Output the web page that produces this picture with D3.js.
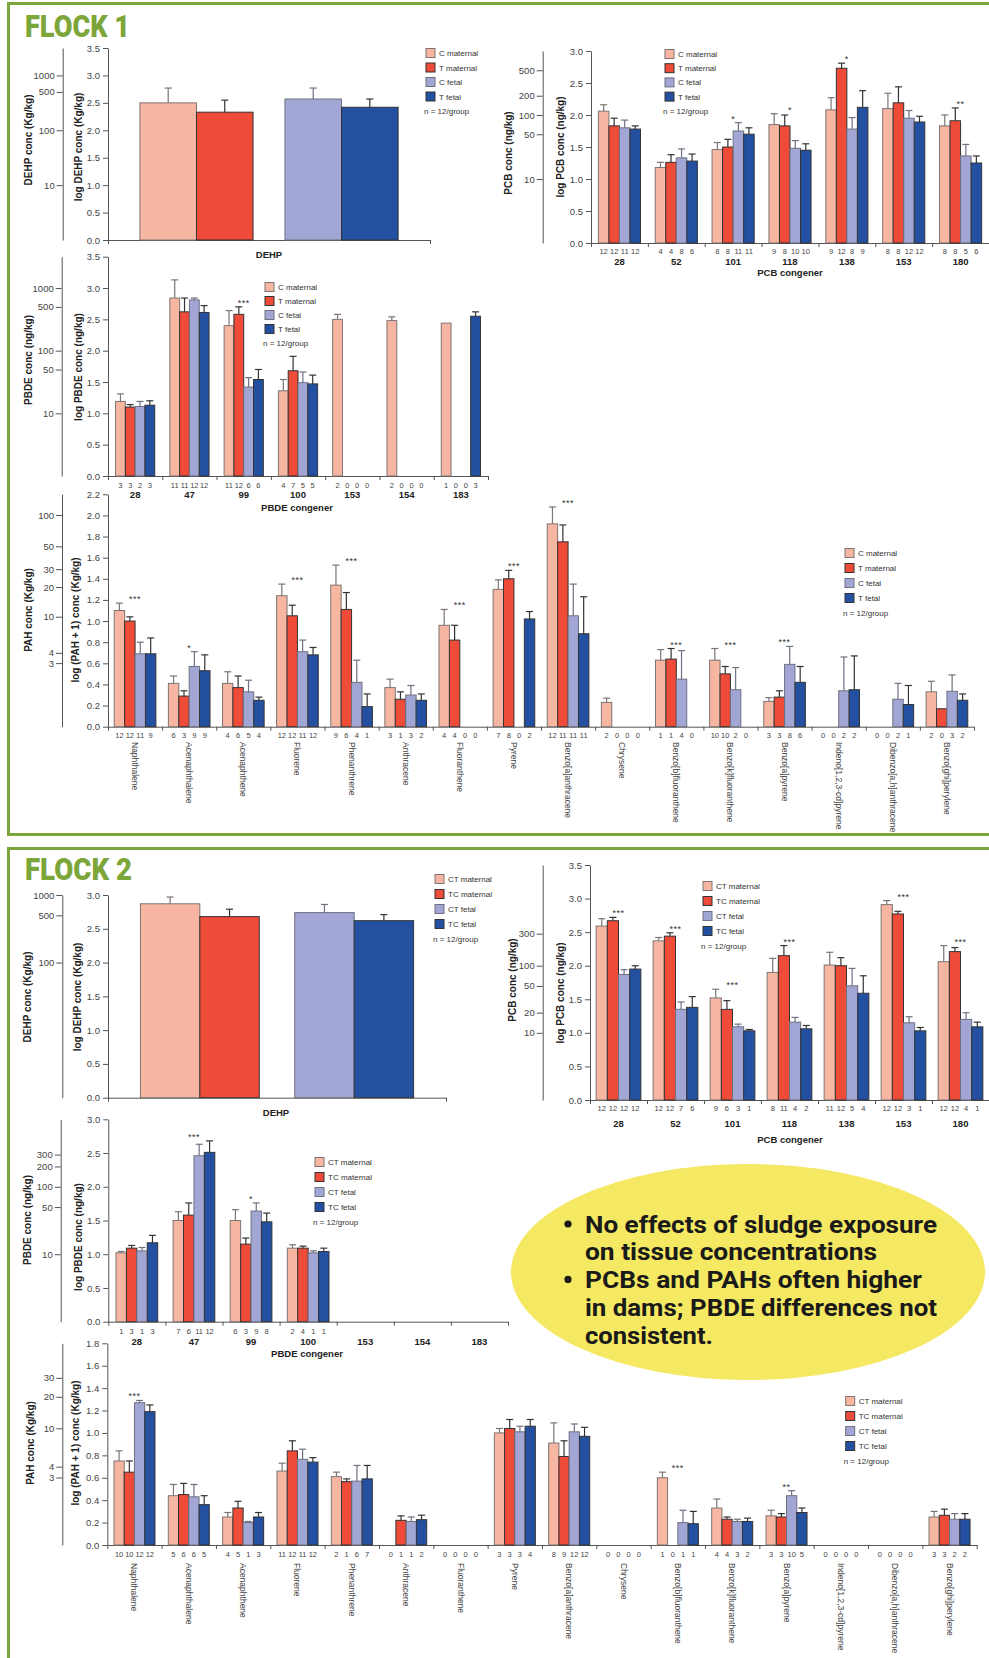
<!DOCTYPE html>
<html>
<head>
<meta charset="utf-8">
<script src="https://cdn.jsdelivr.net/npm/d3@7"></script>
<style>
  body { margin: 0; background: #fff; }
  svg { display: block; }
  text { font-family: "Liberation Sans", Arial, sans-serif; }
</style>
</head>
<body>
<script>
// ---------- data ----------
var seriesF1 = ["C maternal", "T maternal", "C fetal", "T fetal"];
var seriesF2 = ["CT maternal", "TC maternal", "CT fetal", "TC fetal"];

var pcbGroups = ["28", "52", "101", "118", "138", "153", "180"];
var pbdeGroups = ["28", "47", "99", "100", "153", "154", "183"];
var pahGroups = ["Naphthalene", "Acenaphthalene", "Acenaphthene", "Fluorene", "Phenanthrene",
  "Anthracene", "Fluoranthene", "Pyrene", "Benzo[a]anthracene", "Chrysene",
  "Benzo[b]fluoranthene", "Benzo[k]fluoranthene", "Benzo[a]pyrene",
  "Indeno[1,2,3-cd]pyrene", "Dibenzo[a,h]anthracene", "Benzo[ghi]perylene"];

// secondary (untransformed) tick labels
var f1DehpSec = [10, 100, 500, 1000];
var f1PcbSec = [10, 50, 100, 200, 500];
var f1PbdeSec = [10, 50, 100, 500, 1000];
var f1PahSec = [3, 4, 10, 20, 30, 50, 100];
var f2DehpSec = [100, 500, 1000];
var f2PcbSec = [10, 20, 50, 100, 300];
var f2PbdeSec = [10, 50, 100, 200, 300];
var f2PahSec = [3, 4, 10, 20, 30];

// FLOCK 1 — DEHP (log conc), order: C mat, T mat, C fet, T fet
var f1DehpMean = [2.50, 2.33, 2.57, 2.42];
var f1DehpErr = [0.27, 0.22, 0.20, 0.15];

// FLOCK 1 — PCB
var f1PcbMean = [
  [2.06, 1.18, 1.46, 1.85, 2.08, 2.10, 1.83],
  [1.83, 1.26, 1.50, 1.83, 2.73, 2.19, 1.91],
  [1.80, 1.33, 1.75, 1.48, 1.78, 1.95, 1.36],
  [1.78, 1.28, 1.70, 1.45, 2.12, 1.89, 1.25]
];
var f1PcbErr = [
  [0.10, 0.08, 0.11, 0.17, 0.19, 0.24, 0.17],
  [0.12, 0.12, 0.12, 0.17, 0.08, 0.25, 0.20],
  [0.12, 0.14, 0.13, 0.12, 0.18, 0.12, 0.18],
  [0.05, 0.11, 0.10, 0.10, 0.26, 0.09, 0.11]
];
var f1PcbN = [[12, 12, 11, 12], [4, 4, 8, 6], [8, 8, 11, 11], [9, 8, 10, 10], [9, 12, 8, 9], [8, 8, 12, 12], [8, 8, 5, 6]];
var f1PcbStars = ["", "", "*", "*", "*", "", "**"];

// FLOCK 1 — PBDE
var f1PbdeMean = [
  [1.19, 2.84, 2.40, 1.36, 2.50, 2.48, 2.44],
  [1.10, 2.62, 2.58, 1.68, null, null, null],
  [1.11, 2.81, 1.42, 1.49, null, null, null],
  [1.13, 2.61, 1.54, 1.47, null, null, 2.55]
];
var f1PbdeErr = [
  [0.12, 0.29, 0.24, 0.18, 0.08, 0.06, 0],
  [0.04, 0.22, 0.12, 0.23, null, null, null],
  [0.08, 0.03, 0.15, 0.17, null, null, null],
  [0.07, 0.11, 0.16, 0.14, null, null, 0.07]
];
var f1PbdeN = [[3, 3, 2, 3], [11, 11, 12, 12], [11, 12, 6, 6], [4, 7, 5, 5], [2, 0, 0, 0], [2, 0, 0, 0], [1, 0, 0, 3]];
var f1PbdeStars = ["", "", "***", "", "", "", ""];

// FLOCK 1 — PAH (log(PAH + 1))
var f1PahMean = [
  [1.10, 0.41, 0.41, 1.24, 1.34, 0.37, 0.96, 1.30, 1.92, 0.23, 0.63, 0.63, 0.24, null, null, 0.33],
  [1.00, 0.29, 0.37, 1.05, 1.11, 0.26, 0.82, 1.40, 1.75, null, 0.64, 0.50, 0.28, null, null, 0.17],
  [0.69, 0.57, 0.33, 0.71, 0.42, 0.30, null, null, 1.05, null, 0.45, 0.35, 0.59, 0.34, 0.26, 0.335],
  [0.69, 0.53, 0.25, 0.68, 0.19, 0.25, null, 1.02, 0.88, null, null, null, 0.42, 0.35, 0.21, 0.25]
];
var f1PahErr = [
  [0.07, 0.07, 0.11, 0.11, 0.19, 0.08, 0.15, 0.09, 0.16, 0.04, 0.10, 0.11, 0.035, null, null, 0.10],
  [0.04, 0.05, 0.11, 0.10, 0.16, 0.07, 0.14, 0.08, 0.16, null, 0.10, 0.07, 0.06, null, null, 0],
  [0.11, 0.14, 0.11, 0.11, 0.21, 0.09, null, null, 0.30, null, 0.27, 0.21, 0.17, 0.32, 0.15, 0.155],
  [0.15, 0.15, 0.03, 0.07, 0.12, 0.06, null, 0.07, 0.35, null, null, null, 0.15, 0.32, 0.18, 0.06]
];
var f1PahN = [[12, 12, 11, 9], [6, 3, 9, 9], [4, 6, 5, 4], [12, 12, 11, 12], [9, 6, 4, 1], [3, 1, 3, 2], [4, 4, 0, 0], [7, 8, 0, 2],
  [12, 11, 11, 11], [2, 0, 0, 0], [1, 1, 4, 0], [10, 10, 2, 0], [3, 3, 8, 6], [0, 0, 2, 2], [0, 0, 2, 1], [2, 0, 3, 2]];
var f1PahStars = ["***", "*", "", "***", "***", "", "***", "***", "***", "", "***", "***", "***", "", "", ""];

// FLOCK 2 — DEHP, order: CT mat, TC mat, CT fet, TC fet
var f2DehpMean = [2.87, 2.68, 2.74, 2.62];
var f2DehpErr = [0.10, 0.11, 0.12, 0.09];

// FLOCK 2 — PCB
var f2PcbMean = [
  [2.59, 2.37, 1.52, 1.90, 2.01, 2.91, 2.06],
  [2.67, 2.44, 1.35, 2.15, 2.00, 2.77, 2.21],
  [1.87, 1.35, 1.09, 1.16, 1.70, 1.15, 1.20],
  [1.95, 1.38, 1.03, 1.06, 1.59, 1.03, 1.09]
];
var f2PcbErr = [
  [0.11, 0.05, 0.13, 0.21, 0.19, 0.06, 0.24],
  [0.05, 0.05, 0.13, 0.15, 0.12, 0.04, 0.06],
  [0.07, 0.11, 0.04, 0.07, 0.26, 0.09, 0.10],
  [0.05, 0.16, 0.02, 0.05, 0.26, 0.05, 0.07]
];
var f2PcbN = [[12, 12, 12, 12], [12, 12, 7, 6], [9, 6, 3, 1], [8, 11, 4, 2], [11, 12, 5, 4], [12, 12, 3, 1], [12, 12, 4, 1]];
var f2PcbStars = ["***", "***", "***", "***", "", "***", "***"];

// FLOCK 2 — PBDE
var f2PbdeMean = [
  [1.02, 1.50, 1.50, 1.09, null, null, null],
  [1.09, 1.58, 1.15, 1.09, null, null, null],
  [1.05, 2.46, 1.64, 1.02, null, null, null],
  [1.17, 2.51, 1.48, 1.04, null, null, null]
];
var f2PbdeErr = [
  [0.02, 0.13, 0.16, 0.05, null, null, null],
  [0.04, 0.18, 0.09, 0.03, null, null, null],
  [0.05, 0.17, 0.12, 0.03, null, null, null],
  [0.11, 0.17, 0.13, 0.05, null, null, null]
];
var f2PbdeN = [[1, 3, 1, 3], [7, 6, 11, 12], [6, 3, 9, 8], [2, 4, 1, 1], null, null, null];
var f2PbdeStars = ["", "***", "*", "", "", "", ""];

// FLOCK 2 — PAH
var f2PahMean = [
  [0.75, 0.44, 0.25, 0.66, 0.61, null, null, 1.00, 0.91, null, 0.60, 0.33, 0.26, null, null, 0.25],
  [0.65, 0.45, 0.33, 0.84, 0.565, 0.22, null, 1.04, 0.79, null, null, 0.23, 0.25, null, null, 0.265],
  [1.27, 0.43, 0.20, 0.765, 0.57, 0.21, null, 1.01, 1.01, null, 0.20, 0.21, 0.44, null, null, 0.23],
  [1.19, 0.36, 0.25, 0.74, 0.59, 0.226, null, 1.06, 0.97, null, 0.19, 0.21, 0.29, null, null, 0.23]
];
var f2PahErr = [
  [0.09, 0.10, 0.04, 0.07, 0.04, null, null, 0.04, 0.18, null, 0.05, 0.08, 0.05, null, null, 0.05],
  [0.10, 0.10, 0.06, 0.09, 0.025, 0.04, null, 0.08, 0.14, null, null, 0.02, 0.03, null, null, 0.055],
  [0.02, 0.11, 0.01, 0.09, 0.14, 0.04, null, 0.05, 0.07, null, 0.11, 0.02, 0.045, null, null, 0.05],
  [0.06, 0.08, 0.04, 0.04, 0.12, 0.04, null, 0.06, 0.08, null, 0.11, 0.03, 0.04, null, null, 0.05]
];
var f2PahN = [[10, 10, 12, 12], [5, 6, 6, 5], [4, 5, 1, 3], [11, 12, 11, 12], [2, 1, 6, 7], [0, 1, 1, 2], [0, 0, 0, 0], [3, 3, 3, 4],
  [8, 9, 12, 12], [0, 0, 0, 0], [1, 0, 1, 1], [4, 4, 3, 2], [3, 3, 10, 5], [0, 0, 0, 0], [0, 0, 0, 0], [3, 3, 2, 2]];
var f2PahStars = ["***", "", "", "", "", "", "", "", "", "", "***", "", "**", "", "", ""];

var bullets = [
  ["No effects of sludge exposure", "on tissue concentrations"],
  ["PCBs and PAHs often higher", "in dams; PBDE differences not", "consistent."]
];

// ---------- styles ----------
var fills = ["#f7b6a1", "#ee4b39", "#a2a6d4", "#2350a0"];
var edges = ["#7d7473", "#333333", "#6f7080", "#333333"];
var green = "#7ca53a";
var axisGrey = "#555";
var font = "Liberation Sans, Arial, sans-serif";

var svg = d3.select("body").append("svg")
  .attr("width", 989)
  .attr("height", 1658);

// frames
svg.append("rect").attr("x", 8.5).attr("y", 3.5).attr("width", 990).attr("height", 831)
  .attr("fill", "none").attr("stroke", green).attr("stroke-width", 3);
svg.append("rect").attr("x", 8.5).attr("y", 848.5).attr("width", 990).attr("height", 830)
  .attr("fill", "none").attr("stroke", green).attr("stroke-width", 3);

svg.append("text").attr("x", 25).attr("y", 37).text("FLOCK 1")
  .attr("fill", green).style("font-family", "Roboto, sans-serif").style("font-weight", 900)
  .style("font-size", "31px").attr("textLength", 105).attr("lengthAdjust", "spacingAndGlyphs");
svg.append("text").attr("x", 25).attr("y", 880).text("FLOCK 2")
  .attr("fill", green).style("font-family", "Roboto, sans-serif").style("font-weight", 900)
  .style("font-size", "31px").attr("textLength", 107).attr("lengthAdjust", "spacingAndGlyphs");

function styleAxis(sel) {
  sel.attr("font-family", font).attr("font-size", 9.5);
  sel.select(".domain").attr("stroke", axisGrey);
  sel.selectAll(".tick line").attr("stroke", axisGrey);
  sel.selectAll(".tick text").attr("fill", "#444");
}

function vlabel(g, text, x, y) {
  g.append("text")
    .attr("transform", "translate(" + x + "," + y + ") rotate(-90)")
    .attr("text-anchor", "middle")
    .attr("dy", "0.35em")
    .style("font-weight", "bold")
    .style("font-size", "10px")
    .attr("fill", "#222")
    .text(text);
}

function panel(p) {
  var g = svg.append("g");
  var nG = p.groups.length;
  var y = d3.scaleLinear().domain([0, p.max]).range([p.bot, p.top]);

  // primary y axis
  g.append("g")
    .attr("transform", "translate(" + p.ax + ",0)")
    .call(d3.axisLeft(y)
      .tickValues(d3.range(0, p.max + 0.001, p.step))
      .tickFormat(d3.format(".1f"))
      .tickSize(5).tickSizeOuter(0))
    .call(styleAxis);

  // secondary axis (original units, on the log scale)
  g.append("g")
    .attr("transform", "translate(" + p.secX + ",0)")
    .call(d3.axisLeft(y)
      .tickValues(p.sec.map(function (v) { return Math.log10(v + p.secOff); }))
      .tickFormat(function (d, i) { return p.sec[i]; })
      .tickSize(6).tickPadding(2).tickSizeOuter(0))
    .call(styleAxis);

  // x axis with group dividers
  var xl = d3.scaleLinear().domain([0, nG]).range([p.ax, p.x1]);
  g.append("g")
    .attr("transform", "translate(0," + p.bot + ")")
    .call(d3.axisBottom(xl).tickValues(d3.range(nG + 1)).tickFormat("").tickSize(4).tickSizeOuter(0))
    .call(styleAxis);

  // bar positions
  var pos, bw, outer;
  if (p.pair) {
    outer = d3.scaleBand().domain([0, 1]).range([p.ax, p.x1]).paddingInner(p.pi).paddingOuter(p.po);
    var pin = d3.scaleBand().domain([0, 1]).range([0, outer.bandwidth()]);
    bw = pin.bandwidth();
    pos = function (gi, s) { return outer(Math.floor(s / 2)) + pin(s % 2); };
  } else {
    outer = d3.scaleBand().domain(d3.range(nG)).range([p.ax, p.x1]);
    var inner = d3.scaleBand().domain(d3.range(4)).range([0, outer.bandwidth()]).paddingOuter(p.po);
    bw = inner.bandwidth();
    pos = function (gi, s) { return outer(gi) + inner(s); };
  }

  var bars = [];
  p.mean.forEach(function (row, s) {
    row.forEach(function (v, gi) {
      if (v != null) bars.push({ s: s, gi: gi, v: v, e: p.err[s][gi] || 0 });
    });
  });

  g.selectAll("rect.bar").data(bars).enter().append("rect")
    .attr("class", "bar")
    .attr("x", function (d) { return pos(d.gi, d.s); })
    .attr("y", function (d) { return y(d.v); })
    .attr("width", bw)
    .attr("height", function (d) { return p.bot - y(d.v); })
    .attr("fill", function (d) { return fills[d.s]; })
    .attr("stroke", function (d) { return edges[d.s]; })
    .attr("stroke-width", 1);

  var eb = g.selectAll("g.err").data(bars.filter(function (d) { return d.e > 0; })).enter().append("g")
    .attr("stroke", function (d) { return edges[d.s]; })
    .attr("stroke-width", 1.2);
  eb.append("line")
    .attr("x1", function (d) { return pos(d.gi, d.s) + bw / 2; })
    .attr("x2", function (d) { return pos(d.gi, d.s) + bw / 2; })
    .attr("y1", function (d) { return y(d.v); })
    .attr("y2", function (d) { return y(d.v + d.e); });
  eb.append("line")
    .attr("x1", function (d) { return pos(d.gi, d.s) + bw / 2 - 3.5; })
    .attr("x2", function (d) { return pos(d.gi, d.s) + bw / 2 + 3.5; })
    .attr("y1", function (d) { return y(d.v + d.e); })
    .attr("y2", function (d) { return y(d.v + d.e); });

  // significance stars
  if (p.stars) {
    p.stars.forEach(function (st, gi) {
      if (!st) return;
      var top = d3.min(bars.filter(function (d) { return d.gi === gi; }), function (d) { return y(d.v + d.e); });
      g.append("text")
        .attr("x", outer(gi) + outer.bandwidth() / 2)
        .attr("y", top - 1)
        .attr("text-anchor", "middle")
        .style("font-size", "9px")
        .style("letter-spacing", "0.5px")
        .attr("fill", "#333")
        .text(st);
    });
  }

  // n per bar
  if (p.n) {
    p.n.forEach(function (row, gi) {
      if (!row) return;
      row.forEach(function (c, s) {
        g.append("text")
          .attr("x", pos(gi, s) + bw / 2)
          .attr("y", p.nY)
          .attr("text-anchor", "middle")
          .style("font-size", "7.5px")
          .attr("fill", "#444")
          .text(c);
      });
    });
  }

  // group labels
  if (p.rotated) {
    p.groups.forEach(function (name, gi) {
      g.append("text")
        .attr("transform", "translate(" + (outer(gi) + outer.bandwidth() / 2) + "," + p.catY + ") rotate(90)")
        .attr("dy", "0.35em")
        .style("font-size", "8.5px")
        .attr("fill", "#444")
        .text(name);
    });
  } else if (p.gY) {
    p.groups.forEach(function (name, gi) {
      g.append("text")
        .attr("x", outer(gi) + outer.bandwidth() / 2)
        .attr("y", p.gY)
        .attr("text-anchor", "middle")
        .style("font-size", "9.5px")
        .style("font-weight", "bold")
        .attr("fill", "#222")
        .text(name);
    });
  }

  if (p.xTitle) {
    g.append("text")
      .attr("x", p.xTitleX)
      .attr("y", p.xTitleY)
      .attr("text-anchor", "middle")
      .style("font-size", "9.5px")
      .style("font-weight", "bold")
      .attr("fill", "#222")
      .text(p.xTitle);
  }

  vlabel(g, p.ylab, p.ylabX, p.ylabY);
  vlabel(g, p.secLab, p.secLabX, p.secLabY);

  // legend
  var lg = g.append("g").attr("transform", "translate(" + p.leg[0] + "," + p.leg[1] + ")");
  p.series.forEach(function (name, s) {
    lg.append("rect").attr("x", 0).attr("y", s * p.legStep - 4.5).attr("width", 9).attr("height", 9)
      .attr("fill", fills[s]).attr("stroke", edges[s]);
    lg.append("text").attr("x", 13).attr("y", s * p.legStep + 3)
      .style("font-size", "8px").attr("fill", "#333").text(name);
  });
  lg.append("text").attr("x", -2).attr("y", 4 * p.legStep + 3)
    .style("font-size", "8px").attr("fill", "#333").text("n = 12/group");
}

function wrap1(a) { return a.map(function (v) { return [v]; }); }

// ---------- FLOCK 1 ----------
panel({ groups: ["DEHP"], mean: wrap1(f1DehpMean), err: wrap1(f1DehpErr), pair: true, pi: 0.22, po: 0.22,
  ax: 108, x1: 430, top: 48, bot: 240, max: 3.5, step: 0.5,
  secX: 62.7, sec: f1DehpSec, secOff: 0,
  ylab: "log DEHP conc (Kg/kg)", ylabX: 78, ylabY: 147, secLab: "DEHP conc (Kg/kg)", secLabX: 28, secLabY: 140,
  xTitle: "DEHP", xTitleX: 269, xTitleY: 258,
  series: seriesF1, leg: [426, 53], legStep: 14.5 });

panel({ groups: pcbGroups, mean: f1PcbMean, err: f1PcbErr, n: f1PcbN, stars: f1PcbStars, po: 0.7,
  ax: 591, x1: 989, top: 51, bot: 243, max: 3.0, step: 0.5,
  secX: 542.7, sec: f1PcbSec, secOff: 0,
  ylab: "log PCB conc (ng/kg)", ylabX: 560, ylabY: 147, secLab: "PCB conc (ng/kg)", secLabX: 508, secLabY: 153,
  nY: 254, gY: 265, xTitle: "PCB congener", xTitleX: 790, xTitleY: 275.5,
  series: seriesF1, leg: [665, 54], legStep: 14.2 });

panel({ groups: pbdeGroups, mean: f1PbdeMean, err: f1PbdeErr, n: f1PbdeN, stars: f1PbdeStars, po: 0.77,
  ax: 108, x1: 488, top: 256.7, bot: 476, max: 3.5, step: 0.5,
  secX: 61.7, sec: f1PbdeSec, secOff: 0,
  ylab: "log PBDE conc (ng/kg)", ylabX: 78, ylabY: 367, secLab: "PBDE conc (ng/kg)", secLabX: 28, secLabY: 360,
  nY: 488, gY: 498, xTitle: "PBDE congener", xTitleX: 297, xTitleY: 510.5,
  series: seriesF1, leg: [265, 287], legStep: 14 });

panel({ groups: pahGroups, mean: f1PahMean, err: f1PahErr, n: f1PahN, stars: f1PahStars, po: 0.6,
  ax: 108, x1: 974, top: 494.3, bot: 726.7, max: 2.2, step: 0.2,
  secX: 62, sec: f1PahSec, secOff: 1,
  ylab: "log (PAH + 1) conc (Kg/kg)", ylabX: 75, ylabY: 620, secLab: "PAH conc (Kg/kg)", secLabX: 28, secLabY: 610,
  nY: 738, rotated: true, catY: 742,
  series: seriesF1, leg: [845, 553], legStep: 15 });

// ---------- FLOCK 2 ----------
panel({ groups: ["DEHP"], mean: wrap1(f2DehpMean), err: wrap1(f2DehpErr), pair: true, pi: 0.23, po: 0.21,
  ax: 108, x1: 446, top: 895, bot: 1097.7, max: 3.0, step: 0.5,
  secX: 62.3, sec: f2DehpSec, secOff: 0,
  ylab: "log DEHP conc (Kg/kg)", ylabX: 77, ylabY: 997, secLab: "DEHP conc (Kg/kg)", secLabX: 27, secLabY: 997,
  xTitle: "DEHP", xTitleX: 276, xTitleY: 1115.5,
  series: seriesF2, leg: [435, 879], legStep: 15 });

panel({ groups: pcbGroups, mean: f2PcbMean, err: f2PcbErr, n: f2PcbN, stars: f2PcbStars, po: 0.55,
  ax: 590, x1: 989, top: 865, bot: 1100, max: 3.5, step: 0.5,
  secX: 542.7, sec: f2PcbSec, secOff: 0,
  ylab: "log PCB conc (ng/kg)", ylabX: 560, ylabY: 993, secLab: "PCB conc (ng/kg)", secLabX: 512, secLabY: 980,
  nY: 1111, gY: 1126.5, xTitle: "PCB congener", xTitleX: 790, xTitleY: 1142.5,
  series: seriesF2, leg: [703, 886], legStep: 15 });

panel({ groups: pbdeGroups, mean: f2PbdeMean, err: f2PbdeErr, n: f2PbdeN, stars: f2PbdeStars, po: 0.74,
  ax: 108.3, x1: 508, top: 1119.3, bot: 1321.7, max: 3.0, step: 0.5,
  secX: 60.7, sec: f2PbdeSec, secOff: 0,
  ylab: "log PBDE conc (ng/kg)", ylabX: 78, ylabY: 1237, secLab: "PBDE conc (ng/kg)", secLabX: 27, secLabY: 1220,
  nY: 1334, gY: 1344.5, xTitle: "PBDE congener", xTitleX: 307, xTitleY: 1356.5,
  series: seriesF2, leg: [315, 1162], legStep: 15 });

panel({ groups: pahGroups, mean: f2PahMean, err: f2PahErr, n: f2PahN, stars: f2PahStars, po: 0.65,
  ax: 107.3, x1: 976.7, top: 1343.3, bot: 1545, max: 1.8, step: 0.2,
  secX: 62.3, sec: f2PahSec, secOff: 1,
  ylab: "log (PAH + 1) conc (Kg/kg)", ylabX: 75, ylabY: 1443, secLab: "PAH conc (Kg/kg)", secLabX: 30, secLabY: 1443,
  nY: 1557, rotated: true, catY: 1563,
  series: seriesF2, leg: [845.7, 1401], legStep: 15 });

// ---------- summary bubble ----------
svg.append("ellipse")
  .attr("cx", 748).attr("cy", 1272).attr("rx", 237).attr("ry", 108)
  .attr("fill", "#f5e862");

var lineW = [352, 292, 337, 352, 128];
var li = 0;
bullets.forEach(function (lines) {
  svg.append("circle").attr("cx", 568).attr("cy", 1224 + li * 27.7).attr("r", 3.6).attr("fill", "#1a1a1a");
  lines.forEach(function (t) {
    svg.append("text")
      .attr("x", 585).attr("y", 1232.7 + li * 27.7)
      .style("font-family", "Roboto, sans-serif").style("font-weight", 700).style("font-size", "24px")
      .attr("fill", "#1a1a1a")
      .attr("textLength", lineW[li]).attr("lengthAdjust", "spacingAndGlyphs")
      .text(t);
    li++;
  });
});
</script>
</body>
</html>
